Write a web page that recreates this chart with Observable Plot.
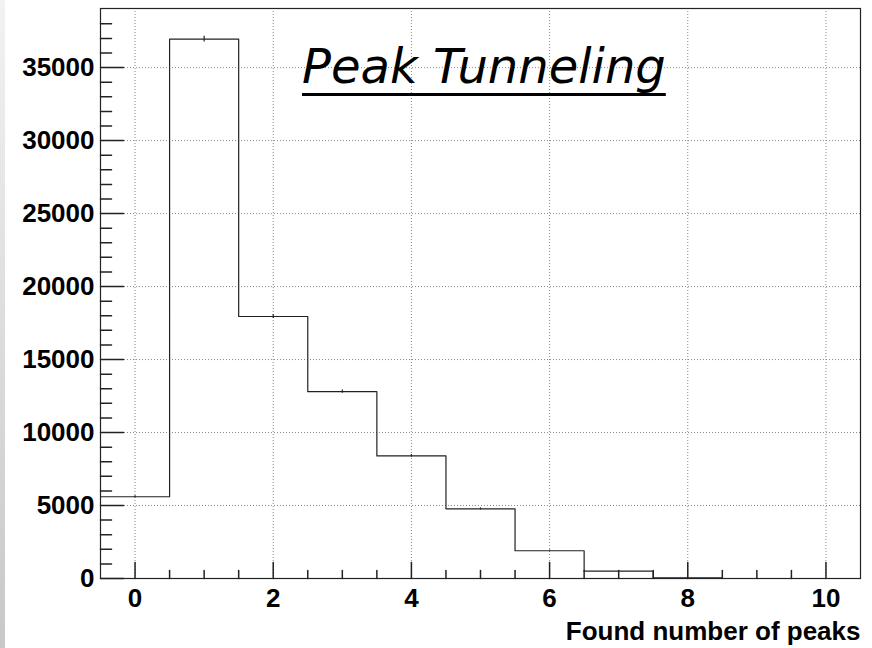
<!DOCTYPE html>
<html>
<head>
<meta charset="utf-8">
<script src="https://cdn.jsdelivr.net/npm/d3@7"></script>
<script src="https://cdn.jsdelivr.net/npm/@observablehq/plot@0.6"></script>
<style>
  html, body { margin: 0; padding: 0; background: #fff; }
  #wrap { position: relative; width: 872px; height: 648px; overflow: hidden; background: #fff; }
  #wrap svg { position: absolute; left: 0; top: 0; }
  #edge { position: absolute; left: 0; top: 0; width: 5px; height: 648px;
          background: linear-gradient(to bottom, #f2f2f2, #c8c8c8); }
  #title { position: absolute; left: 302px; top: 42px; font-family: "DejaVu Sans", sans-serif;
           font-style: italic; font-size: 48px; line-height: 48px; color: #000; white-space: nowrap;
           text-decoration: underline; text-decoration-thickness: 3px; text-underline-offset: 10px; }
</style>
</head>
<body>
<div id="wrap"><div id="edge"></div></div>
<script>
// ---- data ----
const title = "Peak Tunneling";
const xLabel = "Found number of peaks";
const binCenters = [0, 1, 2, 3, 4, 5, 6, 7, 8, 9, 10];
const counts = [5600, 36950, 17950, 12800, 8400, 4770, 1900, 500, 50, 0, 0];
const xMajorTicks = [0, 2, 4, 6, 8, 10];
const xMinorTicks = [0.5, 1, 1.5, 2.5, 3, 3.5, 4.5, 5, 5.5, 6.5, 7, 7.5, 8.5, 9, 9.5];
const yMajorTicks = [0, 5000, 10000, 15000, 20000, 25000, 30000, 35000];
const yMinorTicks = [1000, 2000, 3000, 4000, 6000, 7000, 8000, 9000, 11000, 12000, 13000, 14000,
  16000, 17000, 18000, 19000, 21000, 22000, 23000, 24000, 26000, 27000, 28000, 29000,
  31000, 32000, 33000, 34000, 36000, 37000, 38000];
const xDomain = [-0.5, 10.5];
const yDomain = [0, 39050];

// ---- derived ----
const bins = binCenters.map((c, i) => ({c, lo: c - 0.5, hi: c + 0.5, v: counts[i]}));
const steps = bins.flatMap(b => [{x: b.lo, y: b.v}, {x: b.hi, y: b.v}]);
const errs = bins.filter(b => b.v > 0).map(b => ({c: b.c, y1: b.v - Math.sqrt(b.v), y2: b.v + Math.sqrt(b.v)}));

const tickShape = {draw(ctx, l) { ctx.moveTo(0, 0); ctx.lineTo(0, -l); }};
const ink = "#222";
const gridStyle = {stroke: "#888", strokeOpacity: 1, strokeDasharray: "1,2", strokeWidth: 1};

const chart = Plot.plot({
  width: 872,
  height: 648,
  marginLeft: 100,
  marginRight: 12,
  marginTop: 8,
  marginBottom: 70,
  style: {background: "transparent", fontFamily: "'Liberation Sans', Arial, sans-serif", overflow: "visible"},
  x: {domain: xDomain},
  y: {domain: yDomain},
  marks: [
    Plot.gridX(xMajorTicks, gridStyle),
    Plot.gridY(yMajorTicks, gridStyle),
    Plot.axisY(yMajorTicks, {tickSize: 0, tickPadding: 6, tickFormat: d => String(d), fontSize: 26, fontWeight: "bold", fill: "#000", label: null}),
    Plot.axisX(xMajorTicks, {tickSize: 0, tickPadding: 10, tickFormat: d => String(d), fontSize: 26, fontWeight: "bold", fill: "#000", label: null}),
    Plot.vector(yMajorTicks, {y: d => d, frameAnchor: "left", length: 23, rotate: 90, anchor: "start", shape: tickShape, stroke: ink}),
    Plot.vector(yMinorTicks, {y: d => d, frameAnchor: "left", length: 11, rotate: 90, anchor: "start", shape: tickShape, stroke: ink}),
    Plot.vector(xMajorTicks, {x: d => d, frameAnchor: "bottom", length: 16, rotate: 0, anchor: "start", shape: tickShape, stroke: ink}),
    Plot.vector(xMinorTicks, {x: d => d, frameAnchor: "bottom", length: 8, rotate: 0, anchor: "start", shape: tickShape, stroke: ink}),
    Plot.line(steps, {x: "x", y: "y", stroke: ink, strokeWidth: 1.2, curve: "linear"}),
    Plot.ruleX(errs, {x: "c", y1: "y1", y2: "y2", stroke: ink, strokeWidth: 1.2}),
    Plot.frame({stroke: ink, strokeWidth: 1.2}),
    Plot.text([xLabel], {text: d => d, frameAnchor: "bottom-right", textAnchor: "end", lineAnchor: "middle", dy: 53, fontSize: 26, fontWeight: "bold", fill: "#000"})
  ]
});
const wrap = document.getElementById("wrap");
wrap.insertBefore(chart, wrap.firstChild);
const t = document.createElement("div");
t.id = "title";
t.textContent = title;
wrap.appendChild(t);
</script>
</body>
</html>
